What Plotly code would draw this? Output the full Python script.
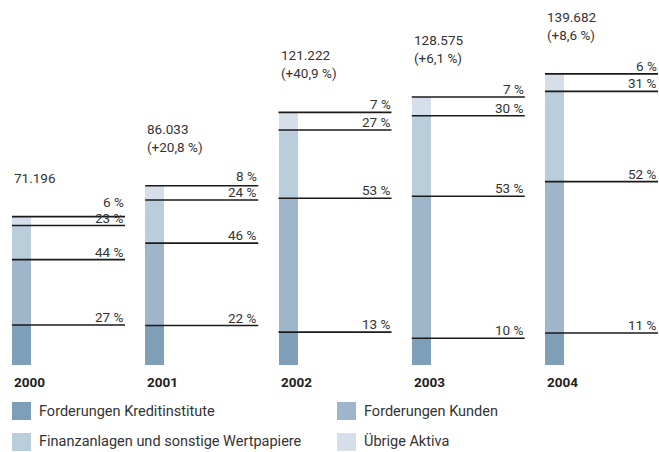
import plotly.graph_objects as go

years = ["2000", "2001", "2002", "2003", "2004"]
totals = [71.196, 86.033, 121.222, 128.575, 139.682]
total_labels = ["71.196", "86.033", "121.222", "128.575", "139.682"]
growth_labels = ["", "(+20,8 %)", "(+40,9 %)", "(+6,1 %)", "(+8,6 %)"]
series_names = ["Forderungen Kreditinstitute", "Forderungen Kunden",
                "Finanzanlagen und sonstige Wertpapiere", "Übrige Aktiva"]
pct_kredit = [27, 22, 13, 10, 11]
pct_kunden = [44, 46, 53, 53, 52]
pct_finanz = [23, 24, 27, 30, 31]
pct_uebrige = [6, 8, 7, 7, 6]
colors = ["#7f9fb8", "#9fb5c9", "#b9cddb", "#d6deea"]

W, H = 659, 452
PLOT_H = 365
PX_PER_UNIT_X = 133.25
X0 = -21.5 / PX_PER_UNIT_X
X1 = X0 + W / PX_PER_UNIT_X
Y_SCALE = 2.084
Y1 = PLOT_H / Y_SCALE
BAR_W = 19 / PX_PER_UNIT_X
LINE_LEN = 113 / PX_PER_UNIT_X
LABEL_H = 16

FONT = "Roboto, sans-serif"
TXT = "#333333"

pcts = [pct_kredit, pct_kunden, pct_finanz, pct_uebrige]
xs = list(range(len(years)))

fig = go.Figure()
for name, pc, col in zip(series_names, pcts, colors):
    vals = [t * p / 100 for t, p in zip(totals, pc)]
    fig.add_trace(go.Bar(x=xs, y=vals, name=name, marker_color=col,
                         marker_line_width=0, width=BAR_W, showlegend=False,
                         hoverinfo="skip"))

annotations = []
lx, ly = [], []
for i in xs:
    left = i - BAR_W / 2
    cum = 0
    for k, pc in enumerate(pcts):
        seg = totals[i] * pc[i] / 100
        cum += seg
        lx += [left, left + LINE_LEN, None]
        ly += [cum, cum, None]
        shift = -1
        if k == len(pcts) - 1:
            shift += max(0, LABEL_H - seg * Y_SCALE)
        annotations.append(dict(x=left + LINE_LEN, y=cum, xref="x", yref="y",
                                text=f"{pc[i]} %", showarrow=False,
                                xanchor="right", yanchor="bottom", yshift=shift,
                                borderpad=0,
                                font=dict(size=13.5, color=TXT, family=FONT)))
    txt = total_labels[i] + ("<br>" + growth_labels[i] if growth_labels[i] else "")
    annotations.append(dict(x=left, y=totals[i], xref="x", yref="y", text=txt,
                            showarrow=False, xanchor="left", yanchor="bottom",
                            yshift=29, align="left",
                            font=dict(size=13.5, color=TXT, family=FONT)))
    annotations.append(dict(x=left, y=0, xref="x", yref="y",
                            text="<b>" + years[i] + "</b>", showarrow=False,
                            xanchor="left", yanchor="top", yshift=-7,
                            font=dict(size=13.5, color="#222222", family=FONT)))

fig.add_trace(go.Scatter(x=lx, y=ly, mode="lines",
                         line=dict(color="#1a1a1a", width=1.6),
                         showlegend=False, hoverinfo="skip"))


def pxx(p):
    return p / W


def pxy(p):
    return (PLOT_H - p) / PLOT_H


shapes = []
legend_pos = [(12, 402), (337, 402), (12, 433), (337, 433)]
for (sx, sy), name, col in zip(legend_pos, series_names, colors):
    shapes.append(dict(type="rect", xref="paper", yref="paper",
                       x0=pxx(sx), x1=pxx(sx + 19), y0=pxy(sy + 18), y1=pxy(sy),
                       fillcolor=col, line_width=0))
    annotations.append(dict(x=pxx(sx + 25), y=pxy(sy + 9), xref="paper",
                            yref="paper", text=name, showarrow=False,
                            xanchor="left", yanchor="middle",
                            font=dict(size=14.5, color=TXT, family=FONT)))

fig.update_layout(
    width=W, height=H, margin=dict(l=0, r=0, t=0, b=H - PLOT_H),
    plot_bgcolor="white", paper_bgcolor="white", barmode="stack",
    xaxis=dict(range=[X0, X1], visible=False, fixedrange=True),
    yaxis=dict(range=[0, Y1], visible=False, fixedrange=True),
    annotations=annotations, shapes=shapes, font=dict(family=FONT),
    hovermode=False,
)

fig.write_html("out.html", config={"displayModeBar": False},
               post_script="document.body.style.margin='0';document.body.style.overflow='hidden';")
